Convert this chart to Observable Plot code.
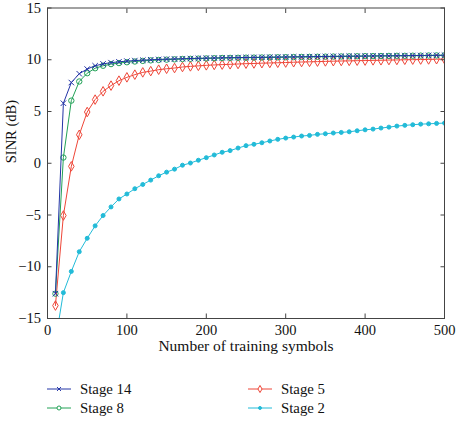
<!DOCTYPE html>
<html>
<head>
<meta charset="utf-8">
<script src="https://cdn.jsdelivr.net/npm/d3@7"></script>
<script src="https://cdn.jsdelivr.net/npm/@observablehq/plot@0.6"></script>
<style>
  body { margin: 0; background: #fff; }
  #chart { position: relative; width: 458px; height: 422px; font-family: "Liberation Serif", "DejaVu Serif", serif; color: #111; }
  #chart svg text { font-family: "Liberation Serif", "DejaVu Serif", serif; }
  .item { position: absolute; display: flex; align-items: center; font-size: 14.8px; line-height: 18px; white-space: nowrap; }
  .item svg { display: block; margin-right: 8px; }
</style>
</head>
<body>
<div id="chart"></div>
<script>
// Number of training symbols at which SINR was evaluated
const symbols = [10, 20, 30, 40, 50, 60, 70, 80, 90, 100,
  110, 120, 130, 140, 150, 160, 170, 180, 190, 200,
  210, 220, 230, 240, 250, 260, 270, 280, 290, 300,
  310, 320, 330, 340, 350, 360, 370, 380, 390, 400,
  410, 420, 430, 440, 450, 460, 470, 480, 490, 500];

// Output SINR (dB) per filter stage
const stage14 = [-12.6, 5.8, 7.8, 8.65, 9.1, 9.42, 9.6, 9.72, 9.8, 9.87,
  9.92, 9.96, 10.0, 10.03, 10.06, 10.08, 10.1, 10.12, 10.14, 10.16,
  10.17, 10.19, 10.2, 10.21, 10.22, 10.23, 10.24, 10.25, 10.26, 10.27,
  10.28, 10.29, 10.3, 10.31, 10.32, 10.33, 10.34, 10.35, 10.35, 10.36,
  10.37, 10.38, 10.38, 10.39, 10.4, 10.41, 10.41, 10.42, 10.43, 10.44];
const stage8 = [-12.6, 0.55, 6.05, 7.9, 8.7, 9.18, 9.42, 9.58, 9.68, 9.76,
  9.83, 9.89, 9.94, 9.98, 10.01, 10.04, 10.07, 10.09, 10.11, 10.13,
  10.15, 10.17, 10.18, 10.19, 10.2, 10.21, 10.22, 10.23, 10.24, 10.25,
  10.26, 10.27, 10.28, 10.29, 10.3, 10.31, 10.32, 10.33, 10.34, 10.35,
  10.35, 10.36, 10.37, 10.38, 10.38, 10.39, 10.4, 10.41, 10.42, 10.43];
const stage5 = [-13.75, -5.05, -0.3, 2.75, 4.95, 6.15, 6.95, 7.5, 7.98, 8.3,
  8.56, 8.78, 8.9, 9.04, 9.13, 9.2, 9.3, 9.36, 9.41, 9.46,
  9.5, 9.53, 9.56, 9.59, 9.62, 9.64, 9.67, 9.69, 9.71, 9.73,
  9.76, 9.78, 9.8, 9.82, 9.84, 9.86, 9.88, 9.89, 9.91, 9.92,
  9.94, 9.95, 9.97, 9.98, 10.0, 10.01, 10.02, 10.03, 10.05, 10.06];
const stage2 = [-17.2, -12.5, -10.45, -8.55, -7.25, -6.05, -5.05, -4.22, -3.45, -2.97,
  -2.46, -2.05, -1.63, -1.21, -0.86, -0.57, -0.19, 0.02, 0.29, 0.54,
  0.8, 1.06, 1.22, 1.47, 1.7, 1.83, 1.98, 2.15, 2.31, 2.43,
  2.53, 2.63, 2.69, 2.79, 2.85, 2.92, 2.98, 3.04, 3.14, 3.23,
  3.3, 3.4, 3.49, 3.59, 3.66, 3.72, 3.78, 3.81, 3.85, 3.88];

const stageNames = ["Stage 14", "Stage 8", "Stage 5", "Stage 2"];
const stageValues = [stage14, stage8, stage5, stage2];

const xTicks = [0, 100, 200, 300, 400, 500];
const yTicks = [-15, -10, -5, 0, 5, 10, 15];
const xLabel = "Number of training symbols";
const yLabel = "SINR (dB)";

// Drawing styles per stage (line colour and marker)
const styles = {
  "Stage 14": { color: "#2334a6", symbol: "times", filled: false, r: 2.6 },
  "Stage 8":  { color: "#22a257", symbol: "circle", filled: false, r: 2.7 },
  "Stage 5":  { color: "#ee4638", symbol: "diamond", filled: false, r: 2.9 },
  "Stage 2":  { color: "#22bbd8", symbol: "circle", filled: true, r: 2.0 }
};

const font = '"Liberation Serif", "DejaVu Serif", serif';
const fs = 14.5;

// Draw the lowest stages first so Stage 14 sits on top
const order = ["Stage 2", "Stage 5", "Stage 8", "Stage 14"];
const seriesMarks = order.flatMap(name => {
  const vals = stageValues[stageNames.indexOf(name)];
  const rows = symbols.map((s, i) => ({ x: s, y: vals[i] }));
  const st = styles[name];
  return [
    Plot.line(rows, { x: "x", y: "y", stroke: st.color, strokeWidth: 1, clip: true }),
    Plot.dot(rows, {
      x: "x", y: "y", symbol: st.symbol, r: st.r, clip: true,
      stroke: st.color, strokeWidth: 1,
      fill: st.filled ? st.color : "none"
    })
  ];
});

const tickStyle = { stroke: "#444", tickFormat: () => "", label: null };

const plot = Plot.plot({
  width: 458,
  height: 361,
  marginLeft: 47,
  marginRight: 14,
  marginTop: 7.5,
  marginBottom: 43,
  style: { fontFamily: font, fontSize: fs + "px", color: "#111", background: "#fff", overflow: "visible" },
  x: { domain: [0, 500] },
  y: { domain: [-15, 15] },
  marks: [
    ...seriesMarks,
    Plot.frame({ stroke: "#444" }),
    Plot.axisX(xTicks, { anchor: "bottom", tickSize: 0, tickPadding: 6, label: null, fontSize: fs, fontFamily: font, fill: "#111" }),
    Plot.axisX(xTicks, { anchor: "bottom", tickSize: -4.5, ...tickStyle }),
    Plot.axisX(xTicks, { anchor: "top", tickSize: -4.5, ...tickStyle }),
    Plot.axisY(yTicks, { anchor: "left", tickSize: 0, tickPadding: 6.5, label: null, fontSize: fs, fontFamily: font, fill: "#111" }),
    Plot.axisY(yTicks, { anchor: "left", tickSize: -4.5, ...tickStyle }),
    Plot.axisY(yTicks, { anchor: "right", tickSize: -4.5, ...tickStyle }),
    Plot.text([xLabel], { text: d => d, frameAnchor: "bottom", dy: 32, fontSize: 15.5, fontFamily: font, fill: "#111" }),
    Plot.text([yLabel], { text: d => d, frameAnchor: "left", rotate: -90, dx: -36, fontSize: fs, fontFamily: font, fill: "#111" })
  ]
});

const chart = document.getElementById("chart");
chart.appendChild(plot);

// Legend below the plot: two columns, two rows
const legendPos = [
  { left: 47, top: 380 }, { left: 47, top: 399 },
  { left: 248, top: 380 }, { left: 248, top: 399 }
];
const legendOrder = ["Stage 14", "Stage 8", "Stage 5", "Stage 2"];
const symbolMap = { times: d3.symbolTimes, circle: d3.symbolCircle, diamond: d3.symbolDiamond };

legendOrder.forEach((name, i) => {
  const st = styles[name];
  const item = document.createElement("div");
  item.className = "item";
  item.style.left = legendPos[i].left + "px";
  item.style.top = legendPos[i].top + "px";
  const svg = d3.create("svg").attr("width", 25).attr("height", 18);
  svg.append("line").attr("x1", 0).attr("x2", 24).attr("y1", 9).attr("y2", 9)
    .attr("stroke", st.color).attr("stroke-width", 1);
  const size = Math.PI * st.r * st.r * 0.55;
  svg.append("path").attr("transform", "translate(12,9)")
    .attr("d", d3.symbol(symbolMap[st.symbol], size)())
    .attr("fill", st.filled ? st.color : "#fff").attr("stroke", st.color).attr("stroke-width", 1);
  item.appendChild(svg.node());
  const label = document.createElement("span");
  label.textContent = name;
  item.appendChild(label);
  chart.appendChild(item);
});
</script>
</body>
</html>
